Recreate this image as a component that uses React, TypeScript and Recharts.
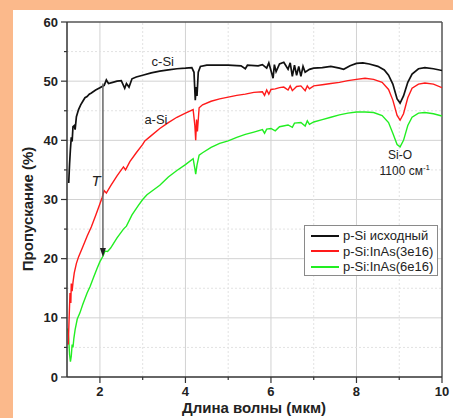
import { LineChart, Line, XAxis, YAxis, CartesianGrid, ReferenceLine, ReferenceDot } from 'recharts';

// исходный p-Si (c-Si)
const blackX = [1.27, 1.29, 1.31, 1.33, 1.35, 1.37, 1.4, 1.42, 1.45, 1.5, 1.55, 1.6, 1.65, 1.7, 1.75, 1.8, 1.9, 2.0, 2.1, 2.15, 2.2, 2.3, 2.4, 2.5, 2.58, 2.62, 2.68, 2.75, 2.85, 3.0, 3.2, 3.4, 3.6, 3.8, 4.0, 4.15, 4.2, 4.23, 4.25, 4.27, 4.3, 4.35, 4.5, 5.0, 5.3, 5.4, 5.45, 5.7, 5.8, 5.9, 5.95, 6.0, 6.05, 6.08, 6.12, 6.2, 6.3, 6.35, 6.4, 6.45, 6.5, 6.55, 6.6, 6.65, 6.7, 6.75, 6.8, 6.9, 7.0, 7.2, 7.4, 7.6, 7.7, 7.85, 8.0, 8.15, 8.3, 8.5, 8.65, 8.75, 8.85, 8.95, 9.02, 9.1, 9.2, 9.3, 9.45, 9.6, 9.8, 10.0];
const blackY = [32.8, 36, 38.5, 40.5, 39.8, 42.3, 42.5, 41.8, 44, 45.2, 46, 46.6, 47.2, 47.4, 47.8, 48.0, 48.5, 48.9, 49.3, 50.2, 49.6, 49.8, 50.0, 50.1, 48.8, 49.6, 49.0, 50.4, 50.7, 51.0, 51.4, 51.7, 51.9, 52.1, 52.2, 52.3, 51.5, 46.8, 49.0, 47.5, 51.5, 52.5, 52.7, 52.7, 52.6, 52.1, 52.7, 52.6, 52.8, 52.2, 53.1, 51.8, 50.5, 52.8, 51.6, 52.9, 53.2, 52.6, 52.0, 53.1, 50.8, 52.7, 51.0, 52.5, 50.8, 52.5, 51.5, 52.0, 52.2, 52.3, 52.5, 52.2, 52.0, 52.6, 53.0, 53.1, 52.9, 52.5, 51.9, 51.0, 49.5, 47.0, 46.3, 47.5, 49.8, 51.2, 52.1, 52.3, 52.1, 51.8];

// p-Si:InAs(3e16) (a-Si)
const redX = [1.26, 1.28, 1.3, 1.32, 1.33, 1.35, 1.37, 1.4, 1.45, 1.5, 1.6, 1.7, 1.8, 1.9, 2.0, 2.05, 2.1, 2.15, 2.25, 2.4, 2.55, 2.6, 2.7, 2.85, 3.0, 3.05, 3.2, 3.4, 3.6, 3.8, 4.0, 4.18, 4.22, 4.24, 4.26, 4.28, 4.32, 4.4, 4.6, 4.8, 5.0, 5.2, 5.4, 5.6, 5.8, 5.85, 5.9, 5.95, 6.0, 6.1, 6.2, 6.3, 6.4, 6.45, 6.5, 6.6, 6.7, 6.8, 6.85, 6.9, 7.0, 7.2, 7.4, 7.6, 7.8, 8.0, 8.2, 8.4, 8.6, 8.75, 8.85, 8.95, 9.02, 9.1, 9.2, 9.3, 9.45, 9.6, 9.8, 10.0];
const redY = [5.5, 10, 14.2, 12.5, 15.8, 14.5, 16, 17.6, 19.2, 20.3, 22.0, 23.8, 25.4, 27.3, 29.3, 30.3, 31.5, 31.1, 32.3, 34.0, 35.5, 35.0, 36.4, 37.9, 39.3, 39.9, 40.8, 42.0, 43.0, 43.9, 44.6, 45.2, 42.5, 40.0, 43.5, 41.5, 45.5, 46.0, 46.6, 47.0, 47.3, 47.6, 47.8, 48.1, 48.2, 47.6, 48.5, 47.8, 48.6, 48.7, 48.9, 49.0, 48.5, 49.2, 48.4, 49.1, 49.2, 48.4, 49.2, 48.7, 49.2, 49.4, 49.6, 49.8, 50.1, 50.3, 50.5, 50.3, 49.8, 48.6, 46.8, 44.2, 43.4, 44.5, 47.2, 48.8, 49.5, 49.7, 49.5, 48.9];

// p-Si:InAs(6e16)
const greenX = [1.25, 1.27, 1.29, 1.31, 1.33, 1.35, 1.37, 1.39, 1.42, 1.47, 1.53, 1.6, 1.7, 1.77, 1.85, 1.93, 2.0, 2.07, 2.12, 2.18, 2.25, 2.4, 2.55, 2.62, 2.75, 2.9, 3.0, 3.1, 3.25, 3.4, 3.6, 3.8, 4.0, 4.18, 4.22, 4.24, 4.27, 4.32, 4.4, 4.6, 4.8, 5.0, 5.2, 5.4, 5.6, 5.8, 5.85, 5.9, 6.0, 6.1, 6.2, 6.4, 6.5, 6.55, 6.7, 6.8, 6.85, 6.9, 7.0, 7.2, 7.4, 7.6, 7.8, 8.0, 8.2, 8.4, 8.6, 8.75, 8.85, 8.95, 9.02, 9.1, 9.2, 9.3, 9.45, 9.6, 9.8, 10.0];
const greenY = [8.2, 6.5, 3.8, 2.6, 3.5, 5.5, 5.0, 6.5, 8.0, 9.8, 10.8, 12.3, 14.2, 15.3, 16.8, 18.3, 19.5, 20.4, 21.3, 21.2, 21.8, 23.5, 25.0, 25.5, 27.4, 29.0, 30.0, 30.8, 31.6, 32.4, 33.8, 34.9, 35.9, 36.9, 35.2, 34.3, 35.8, 37.5, 37.9, 38.8, 39.5, 39.9, 40.5, 41.0, 41.4, 41.8, 41.2, 41.9, 42.0, 41.6, 42.3, 42.6, 42.2, 42.9, 43.0, 42.4, 43.3, 42.7, 43.1, 43.5, 43.9, 44.3, 44.6, 44.8, 44.8, 44.7, 44.2, 43.0, 41.2, 39.3, 38.9, 40.0, 42.5, 43.9, 44.6, 44.7, 44.5, 44.1];

const seriesNames = ['p-Si исходный', 'p-Si:InAs(3e16)', 'p-Si:InAs(6e16)'];
const seriesColors = ['#111111', '#ff1a1a', '#22ee22'];

const xTicks = [2, 3, 4, 5, 6, 7, 8, 9, 10];
const xMajor = [2, 4, 6, 8, 10];
const yTicks = [0, 5, 10, 15, 20, 25, 30, 35, 40, 45, 50, 55, 60];
const yMajor = [0, 10, 20, 30, 40, 50, 60];

const toPoints = (xs: number[], ys: number[]) => xs.map((x, i) => ({ x, y: ys[i] }));
const blackData = toPoints(blackX, blackY);
const redData = toPoints(redX, redY);
const greenData = toPoints(greenX, greenY);

const font = '"Liberation Sans", Arial, sans-serif';

const YTick = (props: any) => {
    const { x, y, payload } = props;
    const major = yMajor.includes(payload.value);
    return (
        <g>
            <line x1={major ? x + 3 : x + 6} x2={x + 9} y1={y} y2={y} stroke="#333" strokeWidth={1.2} />
            {major && (
                <text x={x} y={y} dy="0.35em" textAnchor="end" fontFamily={font} fontWeight="bold" fontSize={13} fill="#222">
                    {payload.value}
                </text>
            )}
        </g>
    );
};

const XTick = (props: any) => {
    const { x, y, payload } = props;
    const major = xMajor.includes(payload.value);
    return (
        <g>
            <line x1={x} x2={x} y1={y - 9} y2={major ? y - 3 : y - 6} stroke="#333" strokeWidth={1.2} />
            {major && (
                <text x={x} y={y} dy="0.8em" textAnchor="middle" fontFamily={font} fontWeight="bold" fontSize={13} fill="#222">
                    {payload.value}
                </text>
            )}
        </g>
    );
};

const textShape = (txt: string, opts: any = {}) => (p: any) => (
    <text x={p.cx} y={p.cy} dy="0.35em" textAnchor="middle" fontFamily={font} fontSize={opts.size || 13}
        fontStyle={opts.italic ? 'italic' : 'normal'} fill="#222">
        {txt}
    </text>
);

export default function App() {
    return (
        <div style={{ position: 'absolute', left: 0, top: 0, width: 453, height: 418, background: '#fbb98b', overflow: 'hidden' }}>
            <div style={{ position: 'absolute', left: 13, top: 10, width: 440, height: 408, background: '#ffffff' }}>
                <LineChart width={440} height={408} margin={{ top: 12, right: 11, left: 0, bottom: 0 }}>
                    <CartesianGrid horizontalValues={[10, 20, 30, 40, 50]} verticalValues={[2, 4, 6, 8]} stroke="#d2d2d2" />
                    {[3, 5, 7, 9].map(v => (
                        <ReferenceLine key={'vx' + v} x={v} stroke="#e2e2e2" strokeDasharray="2 2" />
                    ))}
                    {[5, 15, 25, 35, 45, 55].map(v => (
                        <ReferenceLine key={'hy' + v} y={v} stroke="#e2e2e2" strokeDasharray="2 2" />
                    ))}
                    <XAxis
                        type="number"
                        dataKey="x"
                        domain={[1.23, 10]}
                        ticks={xTicks}
                        height={41}
                        tickSize={6}
                        tickMargin={3}
                        tickLine={false}
                        tick={<XTick />}
                        axisLine={{ stroke: '#333', strokeWidth: 1.5 }}
                        allowDataOverflow
                    />
                    <YAxis
                        type="number"
                        domain={[0, 60]}
                        ticks={yTicks}
                        width={54}
                        tickSize={6}
                        tickMargin={3}
                        tickLine={false}
                        tick={<YTick />}
                        axisLine={{ stroke: '#333', strokeWidth: 1.5 }}
                        allowDataOverflow
                    />
                    <ReferenceLine y={60} stroke="#555" strokeWidth={1.5} />
                    <ReferenceLine x={10} stroke="#555" strokeWidth={1.5} />
                    <Line data={greenData} dataKey="y" stroke={seriesColors[2]} strokeWidth={1.4} dot={false} isAnimationActive={false} />
                    <Line data={redData} dataKey="y" stroke={seriesColors[1]} strokeWidth={1.4} dot={false} isAnimationActive={false} />
                    <Line data={blackData} dataKey="y" stroke={seriesColors[0]} strokeWidth={1.7} dot={false} isAnimationActive={false} />
                    <ReferenceLine segment={[{ x: 2.07, y: 49.6 }, { x: 2.07, y: 21.5 }]} stroke="#666" strokeWidth={1.5} />
                    <ReferenceDot x={2.07} y={20.3} shape={(p: any) => (
                        <path d={`M${p.cx - 3},${p.cy - 9} L${p.cx + 3},${p.cy - 9} L${p.cx},${p.cy} Z`} fill="#222" />
                    )} />
                    <ReferenceDot x={3.47} y={53.4} shape={textShape('c-Si')} />
                    <ReferenceDot x={3.31} y={43.6} shape={textShape('a-Si')} />
                    <ReferenceDot x={1.91} y={33.1} shape={textShape('T', { italic: true, size: 15 })} />
                    <ReferenceDot x={9.02} y={37.5} shape={textShape('Si-O', { size: 12 })} />
                    <ReferenceDot x={9.13} y={34.8} shape={(p: any) => (
                        <text x={p.cx} y={p.cy} dy="0.35em" textAnchor="middle" fontFamily={font} fontSize={12} fill="#222">
                            1100 см<tspan dy="-5" fontSize={8}>-1</tspan>
                        </text>
                    )} />
                    <text x={15} y={199} transform="rotate(-90 15 199)" textAnchor="middle" dy="0.35em"
                        fontFamily={font} fontWeight="bold" fontSize={15} fill="#222">
                        Пропускание (%)
                    </text>
                    <text x={241} y={398} textAnchor="middle" dy="0.35em" fontFamily={font} fontWeight="bold" fontSize={15} fill="#222">
                        Длина волны (мкм)
                    </text>
                </LineChart>
            </div>
            <div style={{
                position: 'absolute', left: 304, top: 225, width: 132, height: 47, border: '1px solid #8a8a8a',
                background: '#fff', fontFamily: font, fontSize: 13, color: '#222', paddingTop: 2, boxSizing: 'content-box'
            }}>
                {seriesNames.map((name, i) => (
                    <div key={name} style={{ display: 'flex', alignItems: 'center', height: 15.5, whiteSpace: 'nowrap' }}>
                        <div style={{ width: 28, height: 2, background: seriesColors[i], marginLeft: 6, marginRight: 4 }} />
                        <span>{name}</span>
                    </div>
                ))}
            </div>
        </div>
    );
}
